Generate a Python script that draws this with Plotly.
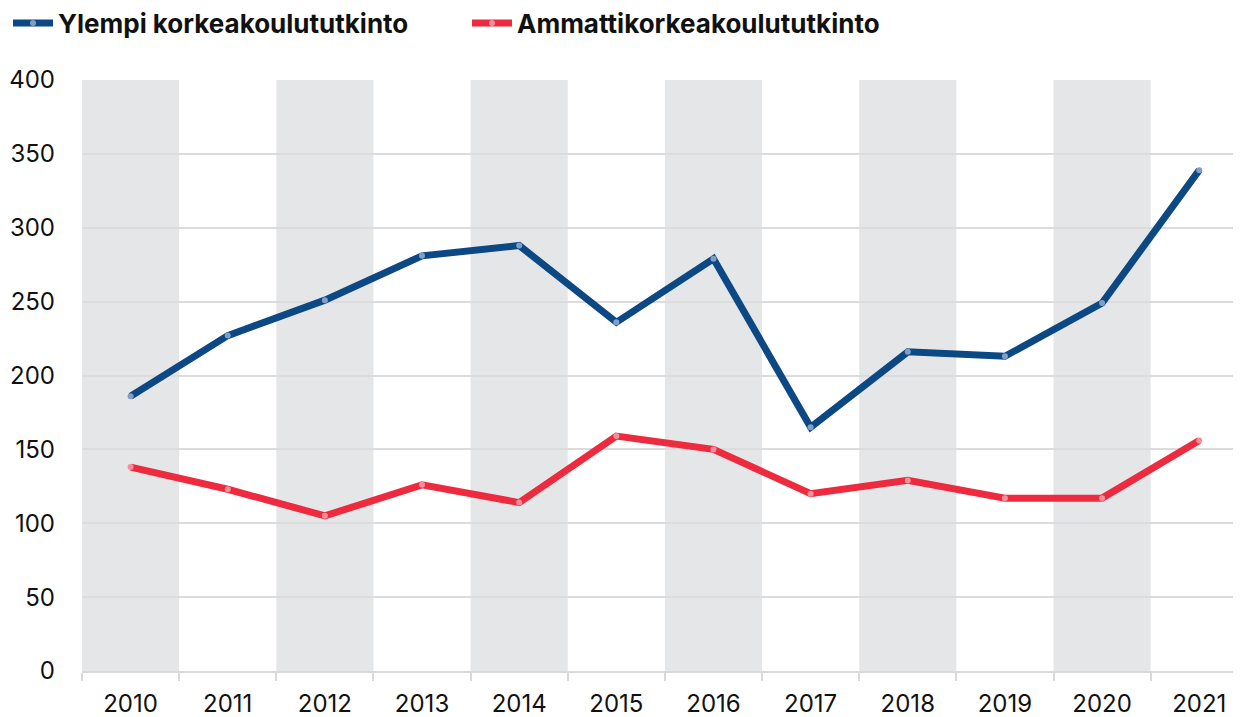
import plotly.graph_objects as go

years = ["2010", "2011", "2012", "2013", "2014", "2015", "2016", "2017", "2018", "2019", "2020", "2021"]
ylempi = [186, 227, 251, 281, 288, 236, 279, 165, 216, 213, 249, 339]
amk = [138, 123, 105, 126, 114, 159, 150, 120, 129, 117, 117, 156]
series_names = ["Ylempi korkeakoulututkinto", "Ammattikorkeakoulututkinto"]
y_ticks = [0, 50, 100, 150, 200, 250, 300, 350, 400]

blue = "#0c4883"
red = "#ee2a3e"

fig = go.Figure()
fig.add_trace(go.Scatter(
    x=years, y=ylempi, name=series_names[0], mode="lines+markers",
    line=dict(color=blue, width=7),
    marker=dict(color="#7f9fc8", size=6, line=dict(width=0)),
))
fig.add_trace(go.Scatter(
    x=years, y=amk, name=series_names[1], mode="lines+markers",
    line=dict(color=red, width=7),
    marker=dict(color="#f58e9b", size=6, line=dict(width=0)),
))

shapes = []
for i in range(0, len(years), 2):
    shapes.append(dict(type="rect", xref="x", yref="paper", x0=i - 0.5, x1=i + 0.5,
                       y0=0, y1=1, fillcolor="#e5e6e8", line=dict(width=0), layer="below"))

W, H = 1233, 709
L, R, T, B = 74, 0, 72, 46
fig.update_layout(
    width=W, height=H,
    margin=dict(l=L, r=R, t=T, b=B, autoexpand=False),
    paper_bgcolor="white", plot_bgcolor="white",
    font=dict(family="Inter, Roboto, sans-serif", size=24, color="#111111"),
    shapes=shapes,
    showlegend=True,
    legend=dict(orientation="h", x=0, xanchor="left", xref="container",
                y=1 - 15 / H, yanchor="middle", yref="container",
                font=dict(size=26, family="Inter, Roboto, sans-serif", weight="bold", color="#111111"),
                entrywidth=404, entrywidthmode="pixels", itemwidth=40,
                traceorder="normal", bgcolor="rgba(0,0,0,0)"),
    xaxis=dict(
        type="category", range=[-0.5, 11.43], automargin=False,
        showgrid=False, showline=True, linecolor="#d9d9d9", linewidth=2,
        ticks="outside", tickson="boundaries", ticklen=8, tickcolor="#d9d9d9", tickwidth=2,
        ticklabelstandoff=10, tickfont=dict(size=24), fixedrange=True,
    ),
    yaxis=dict(
        range=[0, 400], tickvals=y_ticks, showgrid=True, gridcolor="#dcdcdc", gridwidth=2,
        zeroline=False, showline=False, ticks="", ticklabelstandoff=26, automargin=False,
        tickfont=dict(size=24),
    ),
)

fig.write_html("out.html")
